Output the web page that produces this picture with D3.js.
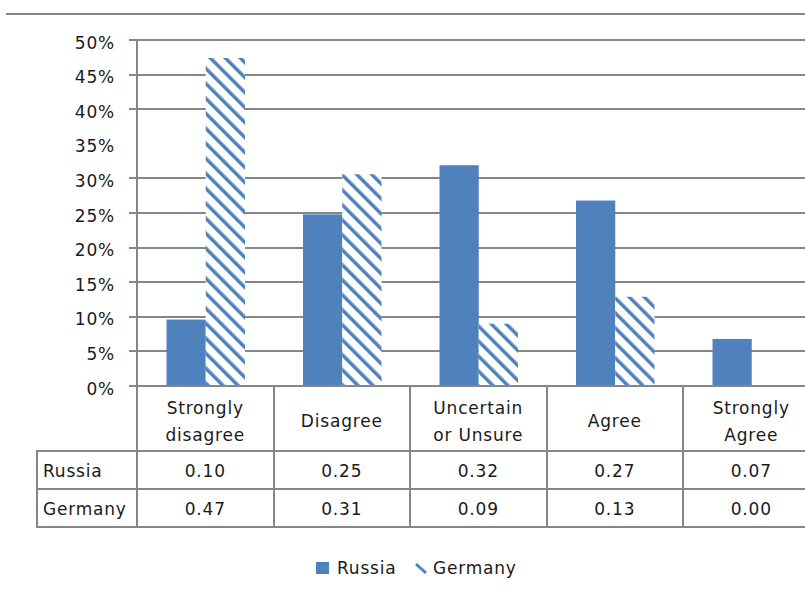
<!DOCTYPE html>
<html>
<head>
<meta charset="utf-8">
<script src="https://cdn.jsdelivr.net/npm/d3@7/dist/d3.min.js"></script>
<style>
  html, body { margin: 0; padding: 0; background: #fff; }
  svg { display: block; }
  text { font-family: "DejaVu Sans", sans-serif; font-size: 17px; fill: #1a1a1a; letter-spacing: 0.8px; }
</style>
</head>
<body>
<svg id="chart" width="805" height="596"></svg>
<script>
// Survey answers, share of respondents per answer
const categories = [["Strongly", "disagree"], ["Disagree"], ["Uncertain", "or Unsure"], ["Agree"], ["Strongly", "Agree"]];
const seriesNames = ["Russia", "Germany"];
const russia  = [0.096, 0.248, 0.319, 0.268, 0.068];
const germany = [0.474, 0.306, 0.090, 0.129, 0.000];
const yTicks = [0, 0.05, 0.10, 0.15, 0.20, 0.25, 0.30, 0.35, 0.40, 0.45, 0.50];
const gridSkip = [0.35];

const blue = "#4F81BD";
const lineGray = "#868686";
const W = 805;

const svg = d3.select("#chart");

// hatch for the Germany series
const defs = svg.append("defs");
const pat = defs.append("pattern")
  .attr("id", "hatch")
  .attr("patternUnits", "userSpaceOnUse")
  .attr("width", 10.6).attr("height", 10.6)
  .attr("patternTransform", "rotate(-45)");
pat.append("rect").attr("width", 10.6).attr("height", 10.6).attr("fill", "#fff");
pat.append("rect").attr("x", 0).attr("width", 3.5).attr("height", 10.6).attr("fill", blue);

// layout
const left = 137, colW = 136.5;
const y0 = 386, yTop = 40;
const rowLines = [451, 489, 527];
const tableLeft = 37;

const keys = categories.map((c, i) => i);
const x = d3.scaleBand().domain(keys).range([left, left + colW * categories.length]).padding(0);
const x1 = d3.scaleBand().domain(seriesNames).range([29.5, 108]).padding(0);
const y = d3.scaleLinear().domain([0, 0.5]).range([y0, yTop]);

// outer top border
svg.append("line").attr("x1", 6).attr("x2", W).attr("y1", 14).attr("y2", 14)
  .attr("stroke", lineGray).attr("stroke-width", 2);

// gridlines with their short outer ticks
svg.append("g").selectAll("line")
  .data(yTicks.filter(t => !gridSkip.some(s => Math.abs(s - t) < 1e-9) && t > 0))
  .join("line")
  .attr("x1", 129).attr("x2", W)
  .attr("y1", d => Math.round(y(d))).attr("y2", d => Math.round(y(d)))
  .attr("stroke", lineGray).attr("stroke-width", 2);

// y axis labels
const yAxis = d3.axisLeft(y).tickValues(yTicks).tickFormat(d3.format(".0%")).tickSize(0).tickPadding(0);
const gy = svg.append("g").attr("transform", `translate(115,0)`).call(yAxis);
gy.select(".domain").remove();
gy.selectAll("text")
  .attr("dy", null).attr("y", 8)
  .attr("x", 0)
  .style("font-family", "'DejaVu Sans', sans-serif").style("font-size", "17px")
  .attr("fill", "#1a1a1a");

// bars
const barData = [];
keys.forEach(i => {
  barData.push({ i, s: "Russia", v: russia[i] });
  barData.push({ i, s: "Germany", v: germany[i] });
});
svg.append("g").selectAll("rect")
  .data(barData)
  .join("rect")
  .attr("x", d => x(d.i) + x1(d.s))
  .attr("width", x1.bandwidth())
  .attr("y", d => y(d.v))
  .attr("height", d => y0 - y(d.v))
  .attr("fill", d => d.s === "Russia" ? blue : "url(#hatch)");

// data table grid
const g = svg.append("g").attr("stroke", lineGray).attr("stroke-width", 2);
g.append("line").attr("x1", 129).attr("x2", W).attr("y1", y0).attr("y2", y0);
rowLines.forEach(ry => g.append("line").attr("x1", tableLeft).attr("x2", W).attr("y1", ry).attr("y2", ry));
g.append("line").attr("x1", left).attr("x2", left).attr("y1", yTop).attr("y2", rowLines[2] + 1);
g.append("line").attr("x1", tableLeft).attr("x2", tableLeft).attr("y1", rowLines[0] - 1).attr("y2", rowLines[2] + 1);
keys.slice(1).forEach(i => {
  const cx = Math.round(x(i));
  g.append("line").attr("x1", cx).attr("x2", cx).attr("y1", y0).attr("y2", rowLines[2] + 1);
});

// category headers
const hdr = svg.append("g");
keys.forEach(i => {
  const lines = categories[i];
  const cx = x(i) + x.bandwidth() / 2;
  const base = lines.length === 1 ? [427] : [414, 441];
  lines.forEach((t, k) => {
    hdr.append("text").attr("x", cx).attr("y", base[k]).attr("text-anchor", "middle").text(t);
  });
});

// value rows
const fmt = d3.format(".2f");
const rows = [russia, germany];
const rowBase = [477, 515];
rows.forEach((vals, r) => {
  svg.append("text").attr("x", 43).attr("y", rowBase[r]).text(seriesNames[r]);
  svg.append("g").selectAll("text")
    .data(vals)
    .join("text")
    .attr("x", (d, i) => x(i) + x.bandwidth() / 2)
    .attr("y", rowBase[r])
    .attr("text-anchor", "middle")
    .text(d => fmt(d));
});

// legend
const lg = svg.append("g");
lg.append("rect").attr("x", 316).attr("y", 562).attr("width", 13).attr("height", 12).attr("fill", blue);
lg.append("text").attr("x", 337).attr("y", 574).text("Russia");
lg.append("line").attr("x1", 416).attr("y1", 564).attr("x2", 426).attr("y2", 573)
  .attr("stroke", blue).attr("stroke-width", 3);
lg.append("text").attr("x", 433).attr("y", 574).text("Germany");
</script>
</body>
</html>
